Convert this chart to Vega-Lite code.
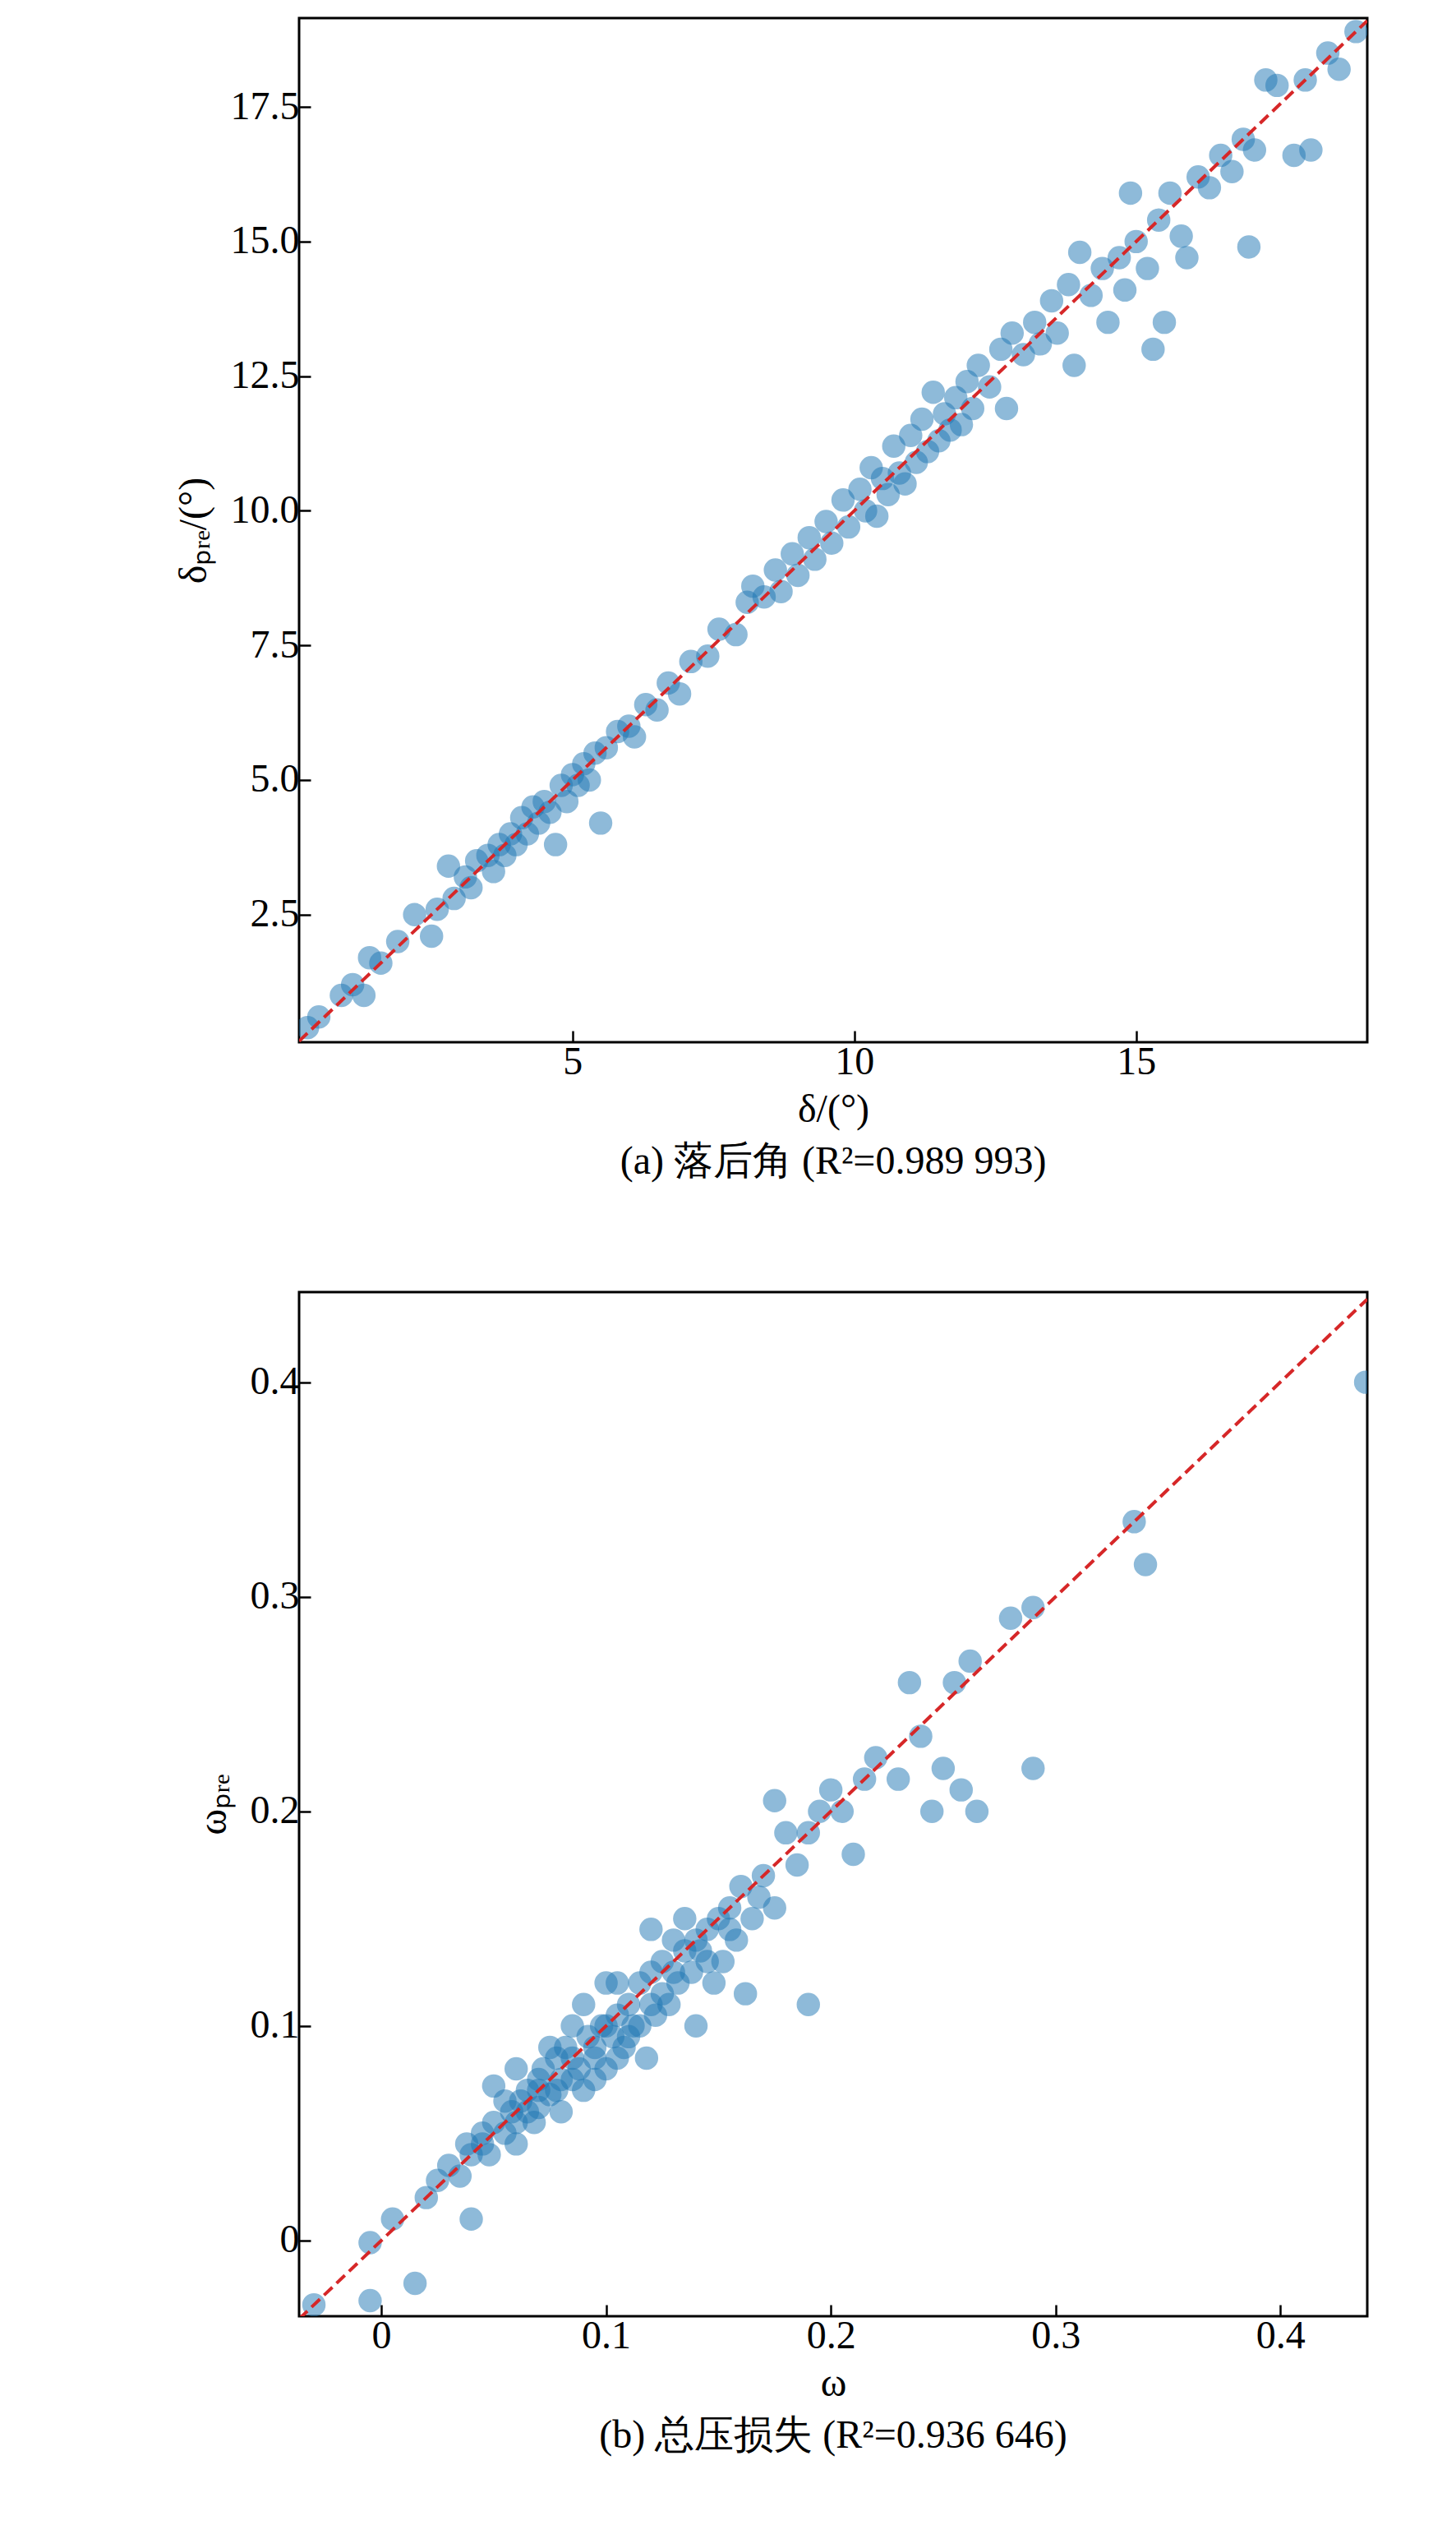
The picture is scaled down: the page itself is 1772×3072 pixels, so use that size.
{
"$schema":"https://vega.github.io/schema/vega-lite/v6.json",
"background":"white",
"padding":{"left":210,"top":20,"right":20,"bottom":10},
"config":{"font":"Liberation Serif","view":{"stroke":"black","strokeWidth":3},
"axis":{"domain":false,"grid":false,"ticks":true,"tickSize":-14,"tickWidth":2.5,"tickColor":"black","labelFont":"Liberation Serif","labelFontSize":48,"labelColor":"black","labelPadding":14,"titleFont":"Liberation Serif","titleFontSize":48,"titleFontWeight":"normal","titleColor":"black"},
"title":{"font":"Liberation Serif","fontSize":48,"fontWeight":"normal","color":"black","orient":"bottom","offset":16}},
"spacing":130,
"vconcat":[
{"width":1300,"height":1246,
"title":"(a) 落后角 (R²=0.989 993)",
"layer":[
{"data":{"values":[[0.3,0.4],[0.5,0.6],[0.9,1.0],[1.1,1.2],[1.3,1.0],[1.4,1.7],[1.6,1.6],[1.9,2.0],[2.2,2.5],[2.5,2.1],[2.6,2.6],[2.8,3.4],[2.9,2.8],[3.1,3.2],[3.2,3.0],[3.3,3.5],[3.5,3.6],[3.6,3.3],[3.7,3.8],[3.8,3.6],[3.9,4.0],[4.0,3.8],[4.1,4.3],[4.2,4.0],[4.3,4.5],[4.4,4.2],[4.5,4.6],[4.6,4.4],[4.7,3.8],[4.8,4.9],[4.9,4.6],[5.0,5.1],[5.1,4.9],[5.2,5.3],[5.3,5.0],[5.4,5.5],[5.5,4.2],[5.6,5.6],[5.8,5.9],[6.0,6.0],[6.1,5.8],[6.3,6.4],[6.5,6.3],[6.7,6.8],[6.9,6.6],[7.1,7.2],[7.4,7.3],[7.6,7.8],[7.9,7.7],[8.1,8.3],[8.2,8.6],[8.4,8.4],[8.6,8.9],[8.7,8.5],[8.9,9.2],[9.0,8.8],[9.2,9.5],[9.3,9.1],[9.5,9.8],[9.6,9.4],[9.8,10.2],[9.9,9.7],[10.1,10.4],[10.2,10.0],[10.3,10.8],[10.4,9.9],[10.5,10.6],[10.6,10.3],[10.7,11.2],[10.8,10.7],[10.9,10.5],[11.0,11.4],[11.1,10.9],[11.2,11.7],[11.3,11.1],[11.4,12.2],[11.5,11.3],[11.6,11.8],[11.7,11.5],[11.8,12.1],[11.9,11.6],[12.0,12.4],[12.1,11.9],[12.2,12.7],[12.4,12.3],[12.6,13.0],[12.7,11.9],[12.8,13.3],[13.0,12.9],[13.2,13.5],[13.3,13.1],[13.5,13.9],[13.6,13.3],[13.8,14.2],[13.9,12.7],[14.0,14.8],[14.2,14.0],[14.4,14.5],[14.5,13.5],[14.7,14.7],[14.8,14.1],[14.9,15.9],[15.0,15.0],[15.2,14.5],[15.3,13.0],[15.4,15.4],[15.5,13.5],[15.6,15.9],[15.8,15.1],[15.9,14.7],[16.1,16.2],[16.3,16.0],[16.5,16.6],[16.7,16.3],[16.9,16.9],[17.0,14.9],[17.1,16.7],[17.3,18.0],[17.5,17.9],[17.8,16.6],[18.0,18.0],[18.1,16.7],[18.4,18.5],[18.6,18.2],[18.9,18.9]]},
"transform":[{"calculate":"datum[0]","as":"x"},{"calculate":"datum[1]","as":"y"}],
"mark":{"type":"circle","size":700,"color":"#1f77b4","opacity":0.5,"stroke":"#1f77b4","strokeWidth":2,"clip":true},
"encoding":{"x":{"field":"x","type":"quantitative","scale":{"domain":[0.15,19.1],"nice":false,"zero":false},"axis":{"values":[5,10,15],"format":"d","title":"δ/(°)","titlePadding":10}},
"y":{"field":"y","type":"quantitative","scale":{"domain":[0.13,19.15],"nice":false,"zero":false},"axis":{"values":[2.5,5,7.5,10,12.5,15,17.5],"format":".1f","title":"δₚᵣₑ/(°)","titlePadding":20}}}},
{"data":{"values":[{"x":0.15,"y":0.15},{"x":19.1,"y":19.1}]},
"mark":{"type":"line","color":"#d62728","strokeWidth":4,"strokeDash":[14,7],"clip":true},
"encoding":{"x":{"field":"x","type":"quantitative"},"y":{"field":"y","type":"quantitative"}}}
]},
{"width":1300,"height":1246,
"title":"(b) 总压损失 (R²=0.936 646)",
"layer":[
{"data":{"values":[[-0.03,-0.03],[-0.005,-0.001],[0.005,0.01],[-0.005,-0.028],[0.015,-0.02],[0.02,0.02],[0.025,0.028],[0.03,0.035],[0.035,0.03],[0.038,0.045],[0.04,0.04],[0.04,0.01],[0.045,0.05],[0.048,0.04],[0.05,0.055],[0.05,0.072],[0.055,0.05],[0.058,0.06],[0.06,0.045],[0.062,0.065],[0.065,0.07],[0.068,0.055],[0.07,0.075],[0.07,0.062],[0.072,0.08],[0.075,0.068],[0.078,0.085],[0.08,0.06],[0.082,0.09],[0.085,0.075],[0.088,0.08],[0.09,0.11],[0.09,0.07],[0.092,0.095],[0.095,0.085],[0.098,0.1],[0.1,0.12],[0.1,0.08],[0.103,0.095],[0.105,0.105],[0.108,0.09],[0.11,0.11],[0.112,0.1],[0.115,0.12],[0.118,0.085],[0.12,0.125],[0.122,0.105],[0.125,0.13],[0.128,0.11],[0.13,0.14],[0.132,0.12],[0.135,0.15],[0.138,0.125],[0.14,0.1],[0.142,0.135],[0.145,0.145],[0.148,0.12],[0.15,0.15],[0.152,0.13],[0.155,0.155],[0.158,0.14],[0.16,0.165],[0.162,0.115],[0.165,0.15],[0.168,0.16],[0.17,0.17],[0.175,0.155],[0.18,0.19],[0.185,0.175],[0.19,0.11],[0.19,0.19],[0.195,0.2],[0.2,0.21],[0.205,0.2],[0.21,0.18],[0.215,0.215],[0.22,0.225],[0.23,0.215],[0.235,0.26],[0.24,0.235],[0.245,0.2],[0.25,0.22],[0.255,0.26],[0.258,0.21],[0.262,0.27],[0.265,0.2],[0.28,0.29],[0.29,0.22],[0.29,0.295],[0.335,0.335],[0.34,0.315],[0.438,0.4],[0.175,0.205],[0.12,0.145],[0.06,0.08],[0.085,0.1],[0.065,0.06],[0.075,0.09],[0.095,0.075],[0.105,0.12],[0.115,0.1],[0.125,0.115],[0.135,0.135],[0.145,0.13],[0.155,0.145],[0.045,0.045],[0.055,0.065],[0.08,0.075],[0.1,0.1],[0.07,0.07],[0.085,0.085],[0.095,0.09],[0.11,0.095],[0.12,0.11],[0.06,0.055],[0.078,0.07],[0.13,0.125],[0.14,0.14],[0.105,0.085]]},
"transform":[{"calculate":"datum[0]","as":"x"},{"calculate":"datum[1]","as":"y"}],
"mark":{"type":"circle","size":700,"color":"#1f77b4","opacity":0.5,"stroke":"#1f77b4","strokeWidth":2,"clip":true},
"encoding":{"x":{"field":"x","type":"quantitative","scale":{"domain":[-0.0366,0.4387],"nice":false,"zero":false},"axis":{"values":[0,0.1,0.2,0.3,0.4],"format":".1~f","title":"ω","titlePadding":10}},
"y":{"field":"y","type":"quantitative","scale":{"domain":[-0.0353,0.442],"nice":false,"zero":false},"axis":{"values":[0,0.1,0.2,0.3,0.4],"format":".1~f","title":"ωₚᵣₑ","titlePadding":20}}}},
{"data":{"values":[{"x":-0.0366,"y":-0.0366},{"x":0.4387,"y":0.4387}]},
"mark":{"type":"line","color":"#d62728","strokeWidth":4,"strokeDash":[14,7],"clip":true},
"encoding":{"x":{"field":"x","type":"quantitative"},"y":{"field":"y","type":"quantitative"}}}
]}
]}
